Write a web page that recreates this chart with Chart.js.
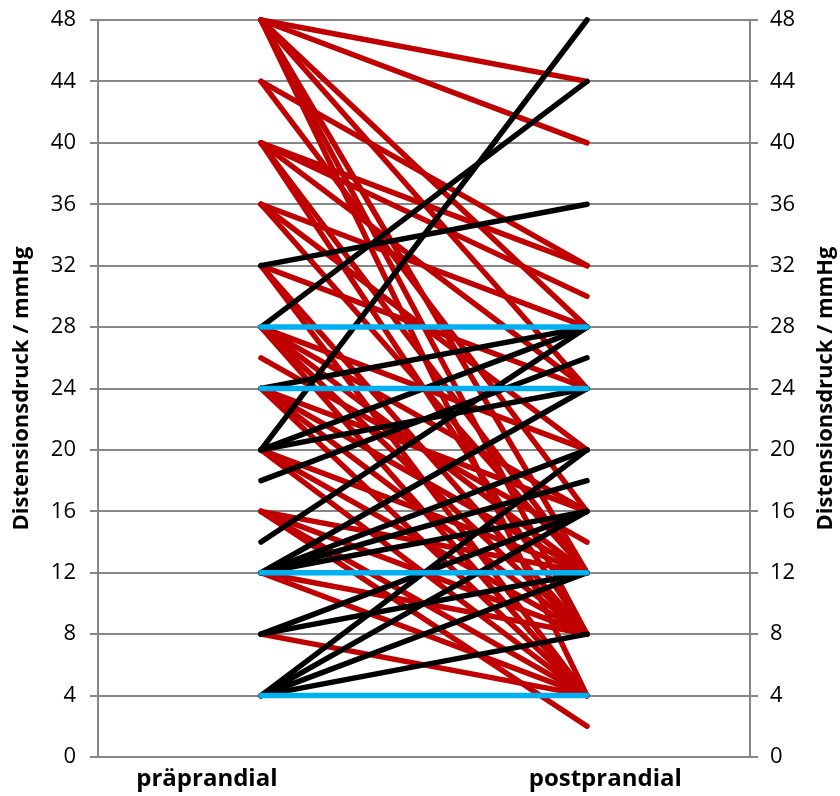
<!DOCTYPE html>
<html>
<head>
<meta charset="utf-8">
<script src="https://cdn.jsdelivr.net/npm/chart.js@4.4.1/dist/chart.umd.min.js"></script>
<style>
	html, body { margin: 0; background: #fff; }
</style>
</head>
<body>
<canvas id="chart" width="840" height="796"></canvas>
<script>
const categories = ['präprandial', 'postprandial'];
const axisTitle = 'Distensionsdruck / mmHg';

// pressure went down (pre, post)
const redPre  = [48, 48, 48, 48, 48, 48, 48, 44, 44, 40, 40, 40, 40, 40, 36, 36, 36, 32, 32, 32,
                 28, 28, 28, 28, 28, 26, 24, 24, 24, 24, 20, 20, 20, 16, 16, 16, 16, 12, 12, 8];
const redPost = [44, 40, 28, 24, 12,  8,  4, 32, 16, 32, 30, 24, 12,  8, 28, 20, 12, 24,  8,  4,
                 20, 16, 12,  8,  4, 14, 16, 12,  8,  4,  8, 12,  4, 12,  8,  4,  2,  8,  4, 4];

// pressure went up
const blackPre  = [32, 28, 20, 24, 20, 20, 18, 14, 12, 12, 12, 12,  8,  8,  4,  4,  4, 4];
const blackPost = [36, 44, 48, 28, 28, 24, 26, 28, 24, 20, 18, 16, 16, 12, 20, 16, 12, 8];

// unchanged
const bluePre  = [28, 24, 12, 4];
const bluePost = [28, 24, 12, 4];

const RED = '#c00000';
const BLACK = '#000000';
const BLUE = '#00b0f0';
const GREY = '#868686';

function makeSets(pre, post, color) {
	return pre.map((v, i) => ({
		data: [v, post[i]],
		borderColor: color,
		borderWidth: 5.5,
		borderCapStyle: 'round',
		pointRadius: 0,
		clip: false
	}));
}

// dataset 0 is painted last, so blue ends up on top and red at the bottom
const datasets = [
	...makeSets(bluePre, bluePost, BLUE),
	...makeSets(blackPre, blackPost, BLACK),
	...makeSets(redPre, redPost, RED)
];

const tickFont = { family: 'Open Sans', size: 22 };

const extraText = {
	id: 'extraText',
	afterDraw(chart) {
		const { ctx, chartArea: a } = chart;
		const midY = (a.top + a.bottom) / 2;
		ctx.save();
		ctx.fillStyle = '#000';
		ctx.textAlign = 'center';
		ctx.textBaseline = 'middle';
		ctx.font = 'bold 22px "Open Sans"';
		for (const x of [22, 826]) {
			ctx.save();
			ctx.translate(x, midY);
			ctx.rotate(-Math.PI / 2);
			ctx.fillText(axisTitle, 0, 0);
			ctx.restore();
		}
		ctx.font = 'bold 24px "Open Sans"';
		const w = a.right - a.left;
		ctx.fillText(categories[0], a.left + w * 0.167, a.bottom + 22);
		ctx.fillText(categories[1], a.left + w * 0.778, a.bottom + 22);
		ctx.restore();
	}
};

function fitY(width) {
	return s => {
		s.width = width;
		s.paddingTop = 0;
		s.paddingBottom = 0;
	};
}

new Chart(document.getElementById('chart'), {
	type: 'line',
	data: { labels: categories, datasets: datasets },
	plugins: [extraText],
	options: {
		responsive: false,
		devicePixelRatio: 1,
		animation: false,
		layout: { padding: { top: 20, left: 0, right: 0, bottom: 0 } },
		plugins: {
			legend: { display: false },
			tooltip: { enabled: false }
		},
		scales: {
			x: {
				offset: true,
				ticks: { display: false },
				grid: { display: false },
				border: { color: GREY, width: 2 },
				afterFit(s) { s.height = 39; }
			},
			y: {
				min: 0,
				max: 48,
				ticks: { stepSize: 4, color: '#000', font: tickFont, padding: 14 },
				grid: { color: GREY, lineWidth: 2, tickLength: 8 },
				border: { color: GREY, width: 2 },
				afterFit: fitY(98)
			},
			y2: {
				position: 'right',
				min: 0,
				max: 48,
				ticks: { stepSize: 4, color: '#000', font: tickFont, padding: 12 },
				grid: { drawOnChartArea: false, color: GREY, lineWidth: 2, tickLength: 8 },
				border: { color: GREY, width: 2 },
				afterFit: fitY(90)
			}
		}
	}
});
</script>
</body>
</html>
